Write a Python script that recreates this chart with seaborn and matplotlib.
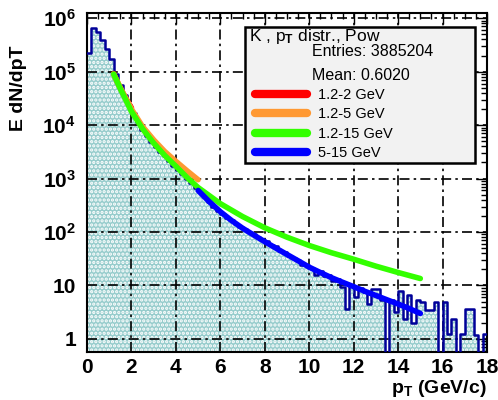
import seaborn as sns
import matplotlib.pyplot as plt
import matplotlib as mpl
import numpy as np
import pandas as pd

# histogram: 0.2 GeV bins from 0 to 18
bin_edges = [round(0.2 * i, 2) for i in range(91)]
counts = [
    2.2e5, 6.6e5, 5.6e5, 3.9e5, 2.7e5, 1.7e5,
    9.0e4, 5.6e4, 3.6e4, 2.4e4, 1.65e4, 1.15e4, 8.2e3, 6.2e3, 4.9e3, 3.9e3,
    3.2e3, 2.6e3, 2.15e3, 1.75e3, 1.45e3, 1.2e3, 1.0e3, 830, 680,
    560, 450, 365, 300, 250, 215, 185, 165, 140, 125,
    115, 100, 92, 80, 72, 68, 56, 54, 44, 42,
    36, 33, 30, 24, 24, 21, 16, 19, 15, 16,
    12, 13, 9.5, 3.6, 10, 6, 9, 7.5, 4.5, 8.5,
    8.5, 5.3, 0, 5.3, 3.2, 8, 2.4, 6.5, 2.0, 5.3,
    5, 3.5, 3.5, 5, 0, 5, 1.25, 2.4, 0, 1.25,
    3.6, 3.6, 1.2, 0, 1.25,
]
bin_centers = [e + 0.1 for e in bin_edges[:-1]]
hist_df = pd.DataFrame({'pt': bin_centers, 'n': counts})

# fitted power-law curves
red_x = [1.2, 1.4, 1.6, 1.8, 2.0]
red_y = [9.2e4, 6.0e4, 4.1e4, 2.9e4, 2.1e4]
orange_x = [1.2, 1.5, 2.0, 2.5, 3.0, 3.5, 4.0, 4.5, 5.0]
orange_y = [9.0e4, 5.0e4, 2.0e4, 9.4e3, 5.3e3, 3.2e3, 2.1e3, 1.4e3, 950]
green_x = [1.2, 1.5, 2.0, 2.5, 3.0, 3.5, 4.0, 4.5, 5.0, 6, 7, 8, 9, 10, 11, 12, 13, 14, 15]
green_y = [9.0e4, 4.8e4, 1.8e4, 8.5e3, 4.6e3, 2.7e3, 1.7e3, 1.05e3, 680,
           340, 195, 120, 80, 56, 41, 31, 23, 17.5, 13.5]
blue_x = [5.0, 5.5, 6.0, 6.5, 7.0, 7.5, 8.0, 8.5, 9.0, 9.5, 10.0, 10.5,
          11.0, 11.5, 12.0, 12.5, 13.0, 13.5, 14.0, 14.5, 15.0]
blue_y = [600, 370, 240, 165, 118, 88, 66, 50, 38, 29, 22, 17.5,
          14, 11.5, 9.5, 7.8, 6.5, 5.4, 4.5, 3.7, 3.0]

fits = [
    ('1.2-2 GeV', red_x, red_y, '#ff0000'),
    ('1.2-5 GeV', orange_x, orange_y, '#ff9933'),
    ('1.2-15 GeV', green_x, green_y, '#33ff00'),
    ('5-15 GeV', blue_x, blue_y, '#0000ff'),
]

sns.set_theme(style="white")
plt.rcParams['font.family'] = ['Liberation Sans', 'DejaVu Sans']
plt.rcParams['mathtext.fontset'] = 'custom'
plt.rcParams['mathtext.rm'] = 'Liberation Sans:bold'
plt.rcParams['mathtext.it'] = 'Liberation Sans:bold'
plt.rcParams['mathtext.bf'] = 'Liberation Sans:bold'
plt.rcParams['hatch.linewidth'] = 1.6
plt.rcParams['text.color'] = 'black'
plt.rcParams['axes.labelcolor'] = 'black'
plt.rcParams['xtick.color'] = 'black'
plt.rcParams['ytick.color'] = 'black'

fig = plt.figure(figsize=(4.98, 4.0), dpi=100)
ax = fig.add_axes([0.1747, 0.12, 0.8032, 0.8475])

# filled histogram with white dot pattern
sns.histplot(data=hist_df, x='pt', weights='n', bins=bin_edges, element='step',
             fill=True, color='#96cccc', alpha=1, edgecolor='white',
             linewidth=0, ax=ax, zorder=1)
for c in ax.collections:
    c.set_hatch('....')
    c.set_edgecolor('white')
    c.set_linewidth(0)
# histogram outline
sns.histplot(data=hist_df, x='pt', weights='n', bins=bin_edges, element='step',
             fill=False, color='#000099', linewidth=1.8, ax=ax, zorder=2.7)

for label, xs, ys, col in fits:
    sns.lineplot(x=xs, y=ys, color=col, linewidth=4, ax=ax, zorder=3,
                 label=label)

ax.set_yscale('log')
ax.set_xlim(0, 18)
ax.set_ylim(0.57, 1.25e6)

ax.set_axisbelow(False)
ax.grid(True, color='black', linestyle=(0, (6, 2.5, 1.5, 2.5)), linewidth=1.2)
ax.set_xticks(np.arange(0, 19, 2))
ax.set_xticks(np.arange(0, 18.01, 0.5), minor=True)
ax.set_yticks([1, 10, 1e2, 1e3, 1e4, 1e5, 1e6],
              ['1', '10', r'$10^{2}$', r'$10^{3}$', r'$10^{4}$', r'$10^{5}$', r'$10^{6}$'])
ax.yaxis.set_minor_locator(mpl.ticker.LogLocator(subs=np.arange(2, 10)))
ax.yaxis.set_minor_formatter(mpl.ticker.NullFormatter())
ax.tick_params(which='both', direction='in', top=True, right=True, color='black')
ax.tick_params(which='major', length=8, width=1, labelsize=15, pad=4)
ax.tick_params(axis='y', which='major', pad=8)
ax.tick_params(which='minor', length=4, width=1)
for lab in ax.get_xticklabels() + ax.get_yticklabels():
    lab.set_fontweight('bold')
for s in ax.spines.values():
    s.set_color('black')
    s.set_linewidth(1.5)

ax.set_ylabel('E dN/dpT', fontsize=14, fontweight='bold', loc='top')
ax.yaxis.set_label_coords(-0.15, 0.905)
ax.set_xlabel(r'p$_{T}$ (GeV/c)', fontsize=14, fontweight='bold', loc='right')
ax.xaxis.set_label_coords(1.0, -0.078)

# stats / legend box
box = mpl.patches.Rectangle((0.395, 0.5575), 0.575, 0.4012, transform=ax.transAxes,
                            facecolor='#f2f2f2', edgecolor='black', linewidth=1.8,
                            zorder=4)
ax.add_patch(box)
ax.text(0.405, 0.932, r'K , p$_{T}$ distr., Pow', transform=ax.transAxes,
        fontsize=12.5, va='center', ha='left', zorder=5)
ax.text(0.5625, 0.885, 'Entries: 3885204', transform=ax.transAxes,
        fontsize=11.5, va='center', ha='left', zorder=5)
ax.text(0.5625, 0.817, 'Mean: 0.6020', transform=ax.transAxes,
        fontsize=11.5, va='center', ha='left', zorder=5)
leg = ax.legend(loc='upper left', bbox_to_anchor=(0.405, 0.797), frameon=False,
                fontsize=10.5, handlelength=3.6, handletextpad=0.7,
                labelspacing=0.38, borderaxespad=0)
for h in leg.get_lines():
    h.set_linewidth(6)
for t in leg.get_texts():
    t.set_color('black')
leg.set_zorder(5)

fig.savefig('out.png', dpi=100)
